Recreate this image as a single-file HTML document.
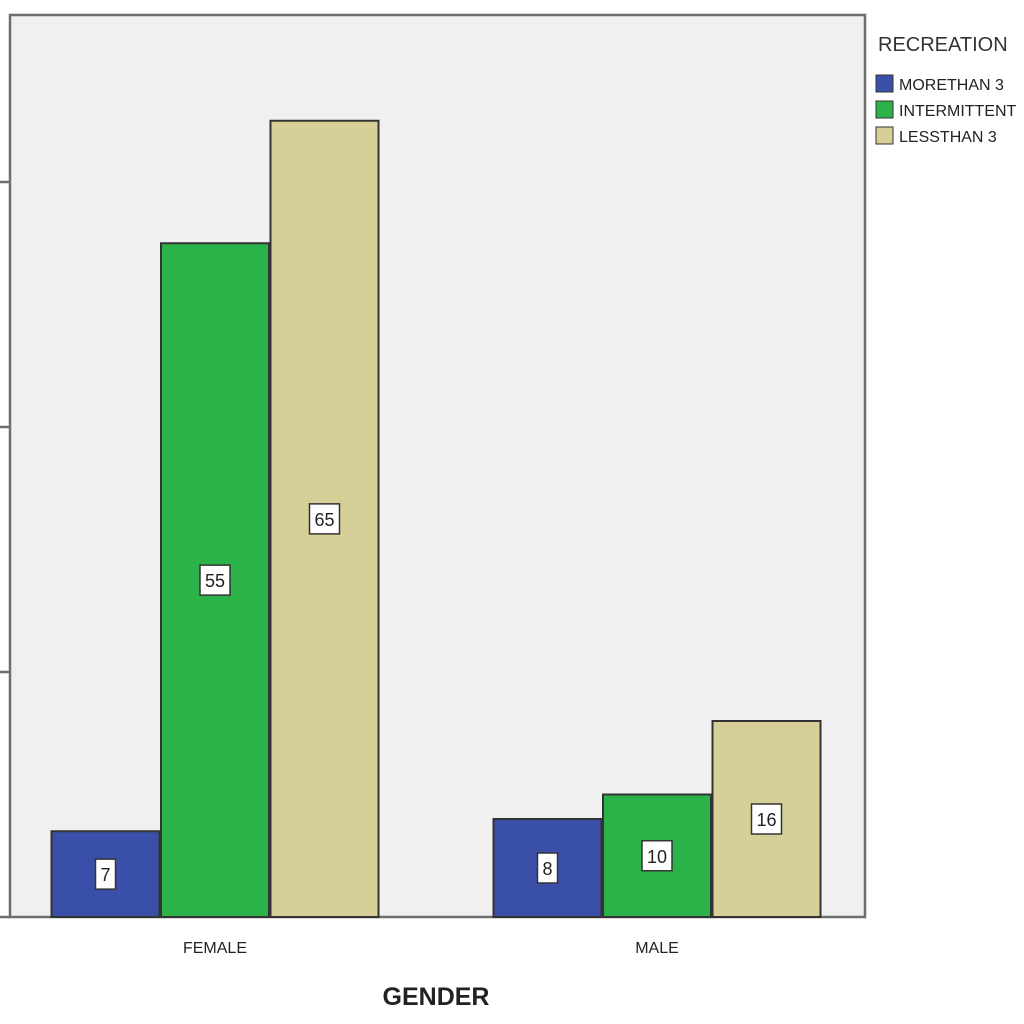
<!DOCTYPE html>
<html><head><meta charset="utf-8"><style>
body{margin:0;background:#fff;}
svg{display:block;font-family:"Liberation Sans",Arial,sans-serif;}
</style></head><body>
<svg id="chart" width="1024" height="1024" viewBox="0 0 1024 1024">
<rect x="10" y="15" width="855" height="902" fill="#f0f0f0" stroke="#6e6e6e" stroke-width="2.5"/>
<g id="ticks"></g>
<g id="bars"></g>
<text x="436" y="1005" font-size="25" font-weight="bold" text-anchor="middle" fill="#222">GENDER</text>
<g>
<text x="878" y="51" font-size="20" fill="#333">RECREATION</text>
<g><rect x="876" y="75" width="17" height="17" fill="#3a4fa8" stroke="#333"/><text x="899" y="90" font-size="16" fill="#222">MORETHAN 3</text></g>
<g><rect x="876" y="101" width="17" height="17" fill="#2bb34a" stroke="#333"/><text x="899" y="116" font-size="16" fill="#222">INTERMITTENT</text></g>
<g><rect x="876" y="127" width="17" height="17" fill="#d6cf98" stroke="#333"/><text x="899" y="142" font-size="16" fill="#222">LESSTHAN 3</text></g>
</g>
</svg>
<script>
const categories=["FEMALE","MALE"];
const moreThan=[7,8];
const intermittent=[55,10];
const lessThan=[65,16];
const yTicks=[0,20,40,60];
const series=[moreThan,intermittent,lessThan];
const colors=["#3a4fa8","#2bb34a","#d6cf98"];
const ns="http://www.w3.org/2000/svg";
const y0=917,pxPer=12.25;
function yScale(v){return y0-v*pxPer;}
function xCenter(i){return 215+i*442;}
const bw=108;
const tg=document.getElementById('ticks');
yTicks.forEach(t=>{
 const l=document.createElementNS(ns,'line');
 l.setAttribute('x1',0);l.setAttribute('x2',10);
 l.setAttribute('y1',yScale(t));l.setAttribute('y2',yScale(t));
 l.setAttribute('stroke','#6e6e6e');l.setAttribute('stroke-width','2.5');
 
 
 tg.appendChild(l);
});
const bg=document.getElementById('bars');
categories.forEach((c,i)=>{
 const cx=xCenter(i);
 const t=document.createElementNS(ns,'text');
 t.setAttribute('x',cx);t.setAttribute('y',953);t.setAttribute('font-size','16');
 t.setAttribute('text-anchor','middle');t.setAttribute('fill','#222');
 t.textContent=c;
 
 
 bg.appendChild(t);
 series.forEach((s,j)=>{
  const x=cx-1.5*bw+j*bw+(j-1)*1.5;
  const r=document.createElementNS(ns,'rect');
  r.setAttribute('x',x);r.setAttribute('y',yScale(s[i]));
  r.setAttribute('width',bw);r.setAttribute('height',y0-yScale(s[i]));
  r.setAttribute('fill',colors[j]);r.setAttribute('stroke','#333');r.setAttribute('stroke-width','2');
  
  
  bg.appendChild(r);
  const my=(yScale(s[i])+y0)/2;
  const lw=String(s[i]).length>1?30:20;
  const b=document.createElementNS(ns,'rect');
  b.setAttribute('x',x+bw/2-lw/2);b.setAttribute('y',my-15);
  b.setAttribute('width',lw);b.setAttribute('height',30);
  b.setAttribute('fill','#fff');b.setAttribute('stroke','#333');b.setAttribute('stroke-width','1.5');
  
  
  bg.appendChild(b);
  const vt=document.createElementNS(ns,'text');
  vt.setAttribute('x',x+bw/2);vt.setAttribute('y',my+7);
  vt.setAttribute('font-size','18');vt.setAttribute('text-anchor','middle');vt.setAttribute('fill','#222');
  vt.textContent=s[i];
  
  
  bg.appendChild(vt);
 });
});
</script>
</body></html>
